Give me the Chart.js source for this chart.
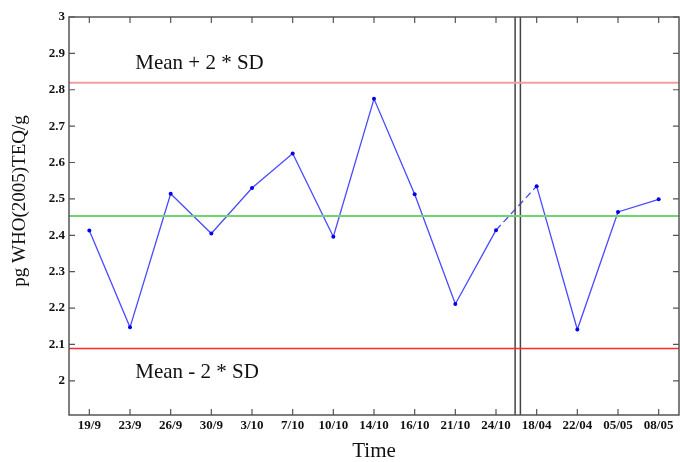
<!DOCTYPE html>
<html>
<head>
<meta charset="utf-8">
<script src="https://cdn.jsdelivr.net/npm/chart.js@4.4.1/dist/chart.umd.min.js"></script>
<style>
  html, body { margin: 0; padding: 0; background: #fff; }
  #wrap { width: 680px; height: 462px; }
</style>
</head>
<body>
<div id="wrap"><canvas id="qcChart"></canvas></div>
<script>
const categories = ["19/9", "23/9", "26/9", "30/9", "3/10", "7/10", "10/10", "14/10", "16/10", "21/10", "24/10", "18/04", "22/04", "05/05", "08/05"];
const values = [2.413, 2.147, 2.514, 2.405, 2.530, 2.625, 2.396, 2.775, 2.513, 2.211, 2.414, 2.535, 2.141, 2.464, 2.499];
const yTicks = [2, 2.1, 2.2, 2.3, 2.4, 2.5, 2.6, 2.7, 2.8, 2.9, 3];
const meanLevel = 2.453;
const upperLimit = 2.819; // mean + 2 * SD
const lowerLimit = 2.089; // mean - 2 * SD
const breakLines = [10.47, 10.6]; // gap between 24/10 and 18/04
const dashedAfter = 10; // segment across the gap is dashed

const xMin = -0.5, xMax = categories.length - 0.5;
const yMin = 1.906, yMax = 3;

const serif = "'Liberation Serif', 'DejaVu Serif', serif";

const points = values.map((v, i) => ({ x: i, y: v }));
const hLine = (y) => [{ x: xMin, y: y }, { x: xMax, y: y }];
const vLine = (x) => [{ x: x, y: yMin }, { x: x, y: yMax }];

// frame, inside tick marks, annotations and y title
const framePlugin = {
    id: "frame",
    afterDraw(chart) {
        const { ctx, chartArea: a, scales: { x, y } } = chart;
        ctx.save();
        ctx.strokeStyle = "#555";
        ctx.lineWidth = 1.5;
        ctx.strokeRect(a.left, a.top, a.right - a.left, a.bottom - a.top);
        ctx.lineWidth = 1.2;
        ctx.beginPath();
        categories.forEach((c, i) => {
            const px = x.getPixelForValue(i);
            ctx.moveTo(px, a.bottom); ctx.lineTo(px, a.bottom - 6);
            ctx.moveTo(px, a.top); ctx.lineTo(px, a.top + 6);
        });
        yTicks.forEach((t) => {
            const py = y.getPixelForValue(t);
            ctx.moveTo(a.left, py); ctx.lineTo(a.left + 6, py);
            ctx.moveTo(a.right, py); ctx.lineTo(a.right - 6, py);
        });
        ctx.stroke();

        ctx.fillStyle = "#111";
        ctx.font = "21px " + serif;
        ctx.textAlign = "left";
        ctx.textBaseline = "alphabetic";
        ctx.fillText("Mean + 2 * SD", x.getPixelForValue(1.13), y.getPixelForValue(2.857));
        ctx.fillText("Mean - 2 * SD", x.getPixelForValue(1.13), y.getPixelForValue(2.008));

        ctx.font = "19px " + serif;
        ctx.textAlign = "center";
        ctx.textBaseline = "middle";
        ctx.translate(20, 201);
        ctx.rotate(-Math.PI / 2);
        ctx.fillText("pg WHO(2005)TEQ/g", 0, 0);
        ctx.restore();
    }
};

const ctx = document.getElementById("qcChart");

new Chart(ctx, {
    type: "scatter",
    data: {
        datasets: [
            {
                data: hLine(upperLimit),
                showLine: true,
                borderColor: "#f59d9d",
                borderWidth: 2,
                pointRadius: 0,
            },
            {
                data: hLine(lowerLimit),
                showLine: true,
                borderColor: "#ff2a2a",
                borderWidth: 1.5,
                pointRadius: 0,
            },
            {
                data: hLine(meanLevel),
                showLine: true,
                borderColor: "#6fd66f",
                borderWidth: 2,
                pointRadius: 0,
            },
            {
                data: vLine(breakLines[0]),
                showLine: true,
                borderColor: "#444",
                borderWidth: 1.5,
                pointRadius: 0,
            },
            {
                data: vLine(breakLines[1]),
                showLine: true,
                borderColor: "#444",
                borderWidth: 1.5,
                pointRadius: 0,
            },
            {
                data: points,
                showLine: true,
                borderColor: "#4a4aff",
                borderWidth: 1.3,
                pointRadius: 2,
                pointBorderWidth: 0,
                pointBackgroundColor: "#0000ee",
                segment: {
                    borderDash: (c) => (c.p0DataIndex === dashedAfter ? [7, 4] : undefined),
                },
            },
        ],
    },
    options: {
        responsive: true,
        maintainAspectRatio: false,
        animation: false,
        layout: { autoPadding: false, padding: { top: 17, right: 1, left: 0, bottom: 0 } },
        plugins: {
            legend: { display: false },
            tooltip: { enabled: false },
        },
        scales: {
            x: {
                type: "linear",
                min: xMin,
                max: xMax,
                afterBuildTicks: (s) => { s.ticks = categories.map((c, i) => ({ value: i })); },
                afterFit: (s) => { s.height = 47; s.paddingLeft = 0; s.paddingRight = 0; },
                grid: { display: false, drawTicks: false },
                border: { display: false },
                ticks: {
                    autoSkip: false,
                    maxRotation: 0,
                    padding: 3,
                    color: "#111",
                    font: { family: serif, size: 13, weight: "bold" },
                    callback: (v) => categories[v],
                },
                title: {
                    display: true,
                    text: "Time",
                    color: "#111",
                    font: { family: serif, size: 21, lineHeight: 1 },
                    padding: { top: 0, bottom: 0 },
                },
            },
            y: {
                min: yMin,
                max: yMax,
                afterBuildTicks: (s) => { s.ticks = yTicks.map((t) => ({ value: t })); },
                afterFit: (s) => { s.width = 69; s.paddingTop = 0; s.paddingBottom = 0; },
                grid: { display: false, drawTicks: false },
                border: { display: false },
                ticks: {
                    padding: 4,
                    color: "#111",
                    font: { family: serif, size: 13, weight: "bold" },
                    callback: (v) => String(Math.round(v * 10) / 10),
                },
            },
        },
    },
    plugins: [framePlugin],
});
</script>
</body>
</html>
